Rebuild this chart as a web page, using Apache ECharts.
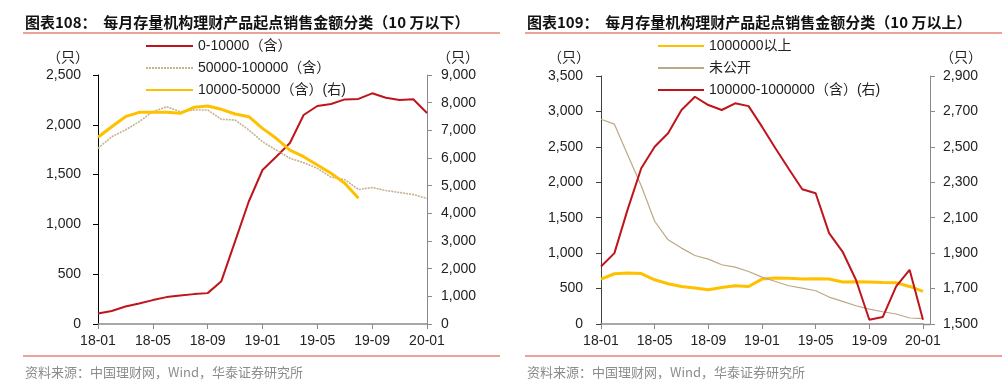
<!DOCTYPE html>
<html><head><meta charset="utf-8">
<script src="https://cdn.jsdelivr.net/npm/echarts@6/dist/echarts.min.js"></script>
<style>html,body{margin:0;padding:0;background:#fff}#c{width:1005px;height:391px}</style>
</head><body><div id="c"></div>
<script>
const months = ['18-01','18-02','18-03','18-04','18-05','18-06','18-07','18-08','18-09','18-10','18-11','18-12',
  '19-01','19-02','19-03','19-04','19-05','19-06','19-07','19-08','19-09','19-10','19-11','19-12','20-01'];
// Left chart (10万以下)
const leftRed = [105,130,175,205,240,270,285,300,310,430,830,1230,1546,1680,1817,2098,2189,2209,2255,2260,2316,2272,2250,2256,2118];
const leftTan = [1764,1880,1948,2031,2131,2182,2131,2149,2149,2055,2048,1948,1830,1747,1664,1620,1563,1475,1450,1350,1370,1340,1320,1300,1260];
const leftOrange = [6748,7131,7493,7650,7650,7650,7614,7831,7880,7760,7590,7493,7072,6711,6288,6047,5746,5446,5085,4543];
// Right chart (10万以上)
const rightOrange = [634,709,719,712,624,568,530,507,483,516,540,530,634,648,644,634,640,634,592,596,592,587,583,530,460];
const rightTan = [2890,2820,2380,1950,1450,1188,1071,967,916,836,803,741,662,600,540,507,469,380,319,258,211,173,141,85,75];
const rightRed = [1825,1900,2150,2379,2501,2577,2708,2783,2736,2708,2746,2730,2614,2492,2375,2261,2238,2013,1909,1750,1524,1539,1712,1806,1524];
const leftNames = ['0-10000（含）','50000-100000（含）','10000-50000（含）(右)'];
const rightNames = ['1000000以上','未公开','100000-1000000（含）(右)'];

const RED = '#C0141C', GOLD = '#FFC000', TAN = '#C6B28C';
const numFmt = v => Number(v).toLocaleString('en-US');
const lab = {color:'#222', fontSize:14, fontFamily:'Liberation Sans, Arial, sans-serif'};
const CJK = '"Noto Sans CJK SC", sans-serif';

function yAx(gi, pos, min, max, interval, lineColor, margin, offset){
  return {type:'value', gridIndex:gi, position:pos, min, max, interval, offset: offset||0,
    axisLine:{show:true, lineStyle:{color:lineColor, width:1}},
    axisTick:{show:true, length:5, lineStyle:{color:lineColor}},
    axisLabel:Object.assign({margin, formatter:numFmt}, lab),
    splitLine:{show:false}};
}
function xAx(gi){
  return {type:'category', gridIndex:gi, data:months, boundaryGap:false,
    axisLine:{lineStyle:{color:'#8a8a8a', width:1.5}},
    axisTick:{interval:3, length:5, lineStyle:{color:'#8a8a8a'}},
    axisLabel:Object.assign({interval:3, margin:10}, lab)};
}
const legendBase = {orient:'vertical', itemHeight:14, itemGap:8, padding:0,
  itemStyle:{opacity:0, borderWidth:0},
  textStyle:{fontSize:14, color:'#222', fontFamily:'Liberation Sans, '+CJK}};
const chart = echarts.init(document.getElementById('c'), null, {renderer:'canvas'});
chart.setOption({
  animation:false,
  grid:[{left:98, top:75, width:329, height:249},{left:601, top:76, width:322, height:248}],
  xAxis:[xAx(0), xAx(1)],
  yAxis:[
    yAx(0,'left',0,2500,500,'#000',17),
    yAx(0,'right',0,9000,1000,'#8a8a8a',14),
    yAx(1,'left',0,3500,500,'#404040',18),
    yAx(1,'right',1500,2900,200,'#8a8a8a',13,7)
  ],
  legend:[
    Object.assign({left:145, top:39, itemWidth:47, data:leftNames}, legendBase),
    Object.assign({left:657, top:39, itemWidth:46, data:rightNames}, legendBase)
  ],
  series:[
    {name:leftNames[0], type:'line', xAxisIndex:0, yAxisIndex:0, data:leftRed, symbol:'none', lineStyle:{color:RED, width:2}, itemStyle:{color:RED}},
    {name:leftNames[1], type:'line', xAxisIndex:0, yAxisIndex:0, data:leftTan, symbol:'none', lineStyle:{color:TAN, width:1.6, type:[2,1]}, itemStyle:{color:TAN}},
    {name:leftNames[2], type:'line', xAxisIndex:0, yAxisIndex:1, data:leftOrange, symbol:'none', lineStyle:{color:GOLD, width:3}, itemStyle:{color:GOLD}},
    {name:rightNames[0], type:'line', xAxisIndex:1, yAxisIndex:2, data:rightOrange, symbol:'none', lineStyle:{color:GOLD, width:3}, itemStyle:{color:GOLD}},
    {name:rightNames[1], type:'line', xAxisIndex:1, yAxisIndex:2, data:rightTan, symbol:'none', lineStyle:{color:'#BDA884', width:1.2}, itemStyle:{color:'#BDA884'}},
    {name:rightNames[2], type:'line', xAxisIndex:1, yAxisIndex:3, data:rightRed, symbol:'none', lineStyle:{color:RED, width:2}, itemStyle:{color:RED}}
  ],
  graphic:[
    {type:'text', left:25, top:15, style:{text:'图表108：  每月存量机构理财产品起点销售金额分类（10 万以下）', font:'bold 15px '+CJK, fill:'#111'}},
    {type:'text', left:527, top:15, style:{text:'图表109：  每月存量机构理财产品起点销售金额分类（10 万以上）', font:'bold 15px '+CJK, fill:'#111'}},
    {type:'line', shape:{x1:23, y1:33, x2:500, y2:33}, style:{stroke:'#E38473', lineWidth:1.5}},
    {type:'line', shape:{x1:525, y1:33, x2:1002, y2:33}, style:{stroke:'#E38473', lineWidth:1.5}},
    {type:'line', shape:{x1:23, y1:356, x2:500, y2:356}, style:{stroke:'#E38473', lineWidth:1.5}},
    {type:'line', shape:{x1:525, y1:356, x2:1002, y2:356}, style:{stroke:'#E38473', lineWidth:1.5}},
    {type:'line', shape:{x1:923, y1:324.5, x2:930, y2:324.5}, style:{stroke:'#8a8a8a', lineWidth:1.5}},
    {type:'text', left:25, top:366, style:{text:'资料来源：中国理财网，Wind，华泰证券研究所', font:'13px '+CJK, fill:'#8c8c8c'}},
    {type:'text', left:527, top:366, style:{text:'资料来源：中国理财网，Wind，华泰证券研究所', font:'13px '+CJK, fill:'#8c8c8c'}},
    {type:'text', x:68, y:57, style:{text:'（只）', font:'14px '+CJK, fill:'#222', align:'center', verticalAlign:'middle'}},
    {type:'text', x:458, y:57, style:{text:'（只）', font:'14px '+CJK, fill:'#222', align:'center', verticalAlign:'middle'}},
    {type:'text', x:569, y:57, style:{text:'（只）', font:'14px '+CJK, fill:'#222', align:'center', verticalAlign:'middle'}},
    {type:'text', x:961, y:57, style:{text:'（只）', font:'14px '+CJK, fill:'#222', align:'center', verticalAlign:'middle'}}
  ]
});
</script></body></html>
